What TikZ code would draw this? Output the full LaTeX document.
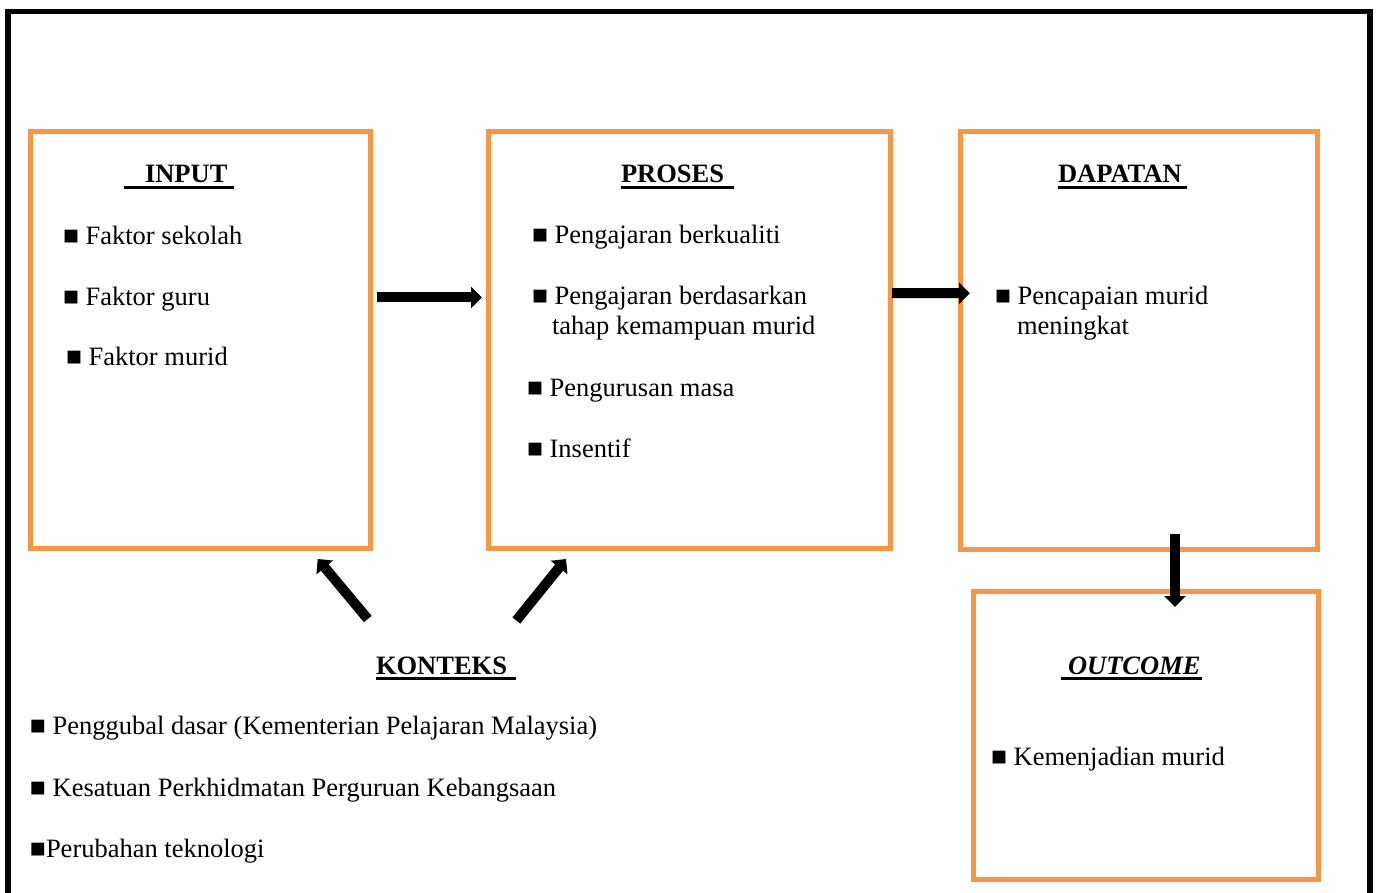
\documentclass[tikz,border=0pt]{standalone}
\usepackage{fontspec}
\setmainfont{Liberation Serif}
\usetikzlibrary{arrows.meta,calc,fit}
\definecolor{boxorange}{RGB}{247,150,70}
\begin{document}
\begin{tikzpicture}[x=0.5pt,y=-0.5pt,
  every node/.style={inner sep=0pt, outer sep=0pt, font=\fontsize{13.25}{15.2}\selectfont},
  box/.style={draw=boxorange, line width=2.5pt, inner sep=0pt, outer sep=0pt},
  item/.style={anchor=base west},
  head/.style={anchor=base west, font=\fontsize{13.25}{15.2}\selectfont\bfseries},
  headit/.style={anchor=base west, font=\fontsize{13.25}{15.2}\selectfont\bfseries\itshape},
  ul/.style={line width=1.25pt},
  blockarrow/.style={line width=5pt, -{Triangle[width=10.5pt,length=5.5pt]}}]
\useasboundingbox (0,0) rectangle (1377,893);
\fill[white] (0,0) rectangle (1377,893);
\begin{scope}
\clip (0,0) rectangle (1377,893);
\draw[line width=2.6pt] (8,11.7) rectangle (1370,920);
\end{scope}
% boxes
\node[box, fit={(30.8,132) (370.3,548.5)}] (input) {};
\node[box, fit={(488,132) (890.5,548.5)}] (proses) {};
\node[box, fit={(960,132) (1317.5,549)}] (dapatan) {};
\node[box, fit={(973.5,591) (1318,879)}] (outcome) {};
% headings
\node[head] (hin) at (145,183) {INPUT};
\node[head] (hpr) at (621,183) {PROSES};
\node[head] (hda) at (1058,183) {DAPATAN};
\node[head] (hko) at (376,674) {KONTEKS};
\node[headit] (hou) at (1068,674) {OUTCOME};
\draw[ul] ([shift={(-21,4.5)}]hin.base west) -- ([shift={(7,4.5)}]hin.base east);
\draw[ul] ([shift={(0,4.5)}]hpr.base west) -- ([shift={(10,4.5)}]hpr.base east);
\draw[ul] ([shift={(0,4.5)}]hda.base west) -- ([shift={(5,4.5)}]hda.base east);
\draw[ul] ([shift={(0,4.5)}]hko.base west) -- ([shift={(9,4.5)}]hko.base east);
\draw[ul] ([shift={(-7,4.5)}]hou.base west) -- ([shift={(1,4.5)}]hou.base east);
% items
\node[item] (i1) at (63,244.5) {■ Faktor sekolah};
\node[item] (i2) at (63,305.5) {■ Faktor guru};
\node[item] (i3) at (66,365.5) {■ Faktor murid};
\node[item] (p1) at (532,243.5) {■ Pengajaran berkualiti};
\node[item] (p2) at (532,304.5) {■ Pengajaran berdasarkan};
\node[item] (p2b) at (552,334.5) {tahap kemampuan murid};
\node[item] (p3) at (527,396.5) {■ Pengurusan masa};
\node[item] (p4) at (527,457.5) {■ Insentif};
\node[item] (d1) at (995,304.5) {■ Pencapaian murid};
\node[item] (d1b) at (1017,334.5) {meningkat};
\node[item] (k1) at (30,734) {■ Penggubal dasar (Kementerian Pelajaran Malaysia)};
\node[item] (k2) at (30,796) {■ Kesatuan Perkhidmatan Perguruan Kebangsaan};
\node[item] (k3) at (30,857) {■Perubahan teknologi};
\node[item] (o1) at (991,765) {■ Kemenjadian murid};
% arrows
\draw[blockarrow] ([shift={(6.7,-42.75)}]input.east) -- ([shift={(-6,-42.75)}]proses.west);
\draw[blockarrow] ([shift={(1.5,-47.25)}]proses.east) -- ([shift={(10,-47.25)}]dapatan.west);
\draw[blockarrow] ([shift={(36.25,-15)}]dapatan.south) -- ([shift={(29.25,16)}]outcome.north);
\draw[blockarrow] ([shift={(-8.2,-55)}]hko.base west) -- ([shift={(-52.6,10.5)}]input.south east);
\draw[blockarrow] ([shift={(140.3,-53.5)}]hko.base west) -- ([shift={(78,10.5)}]proses.south west);
\end{tikzpicture}
\end{document}
